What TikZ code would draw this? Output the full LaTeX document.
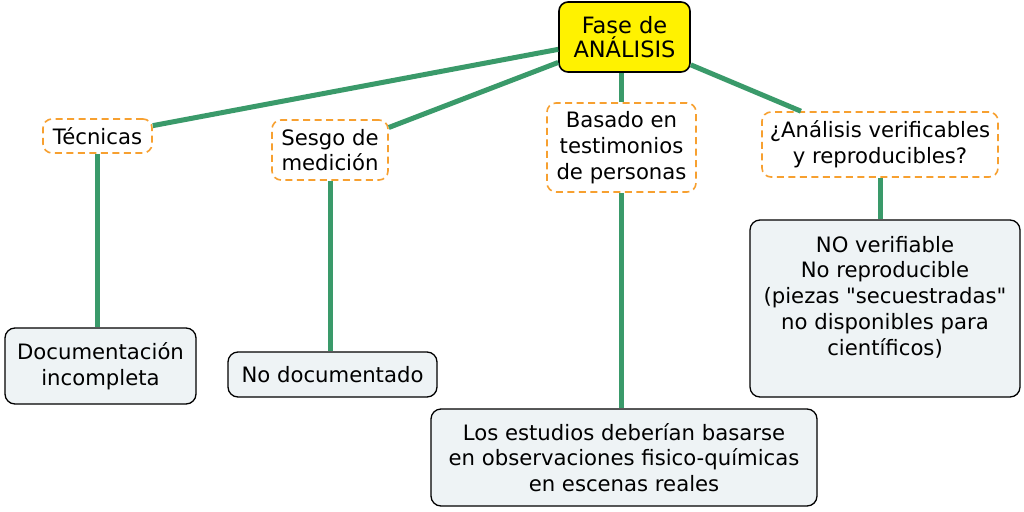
\documentclass[tikz,border=0pt]{standalone}
\usepackage{fontspec}
\setmainfont{DejaVu Sans}
\newfontfamily\dvplain{DejaVu Sans}
\begin{document}
\begin{tikzpicture}[x=1pt,y=-1pt,
  every node/.style={font=\dvplain\fontsize{21.2}{25.8}\selectfont, align=center, inner sep=0pt},
  mainbox/.style={draw=black, line width=1.6pt, fill=yellow, rounded corners=9pt, font=\dvplain\fontsize{22.5}{24.5}\selectfont},
  qbox/.style={draw={rgb,255:red,247;green,160;blue,48}, line width=1.6pt, dash pattern=on 7pt off 4.5pt, fill=white, rounded corners=9pt},
  leafbox/.style={draw=black, line width=1.3pt, fill={rgb,255:red,238;green,243;blue,245}, rounded corners=10pt},
  link/.style={draw={rgb,255:red,58;green,154;blue,106}, line width=5pt}
]
\useasboundingbox (0,0) rectangle (1024,511);
\fill[white] (0,0) rectangle (1024,511);

% nodes
\node[mainbox, minimum width=131pt, minimum height=70pt] (fase) at (624.5,37) {Fase de\\ANÁLISIS};
\node[qbox, minimum width=109pt, minimum height=34pt] (tec) at (97.5,136) {Técnicas};
\node[qbox, minimum width=116pt, minimum height=60pt] (ses) at (330,150) {Sesgo de\\medición};
\node[qbox, minimum width=149pt, minimum height=89pt] (bas) at (621.5,147.5) {Basado en\\testimonios\\de personas};
\node[qbox, minimum width=236pt, minimum height=65pt] (ana) at (880,144.5) {¿Análisis verificables\\y reproducibles?};
\node[leafbox, minimum width=191pt, minimum height=76pt] (doc) at (100.5,366) {Documentación\\incompleta};
\node[leafbox, minimum width=209pt, minimum height=45pt] (nod) at (332.5,374.5) {No documentado};
\node[leafbox, minimum width=386pt, minimum height=97pt] (est) at (624,457.5) {Los estudios deberían basarse\\en observaciones fisico-químicas\\en escenas reales};
\node[leafbox, minimum width=270pt, minimum height=177pt] (nov) at (885,308.5) {NO verifiable\\No reproducible\\(piezas "secuestradas"\\no disponibles para\\científicos)\\\mbox{}};

% connectors
\draw[link] (fase) -- (tec);
\draw[link] (fase) -- (ses);
\draw[link] (fase.south -| bas.north) -- (bas.north);
\draw[link] (fase) -- (ana);
\draw[link] (tec.south) -- (tec.south |- doc.north);
\draw[link] (ses.south) -- (ses.south |- nod.north);
\draw[link] (bas.south) -- (bas.south |- est.north);
\draw[link] (ana.south) -- (ana.south |- nov.north);
\end{tikzpicture}
\end{document}
